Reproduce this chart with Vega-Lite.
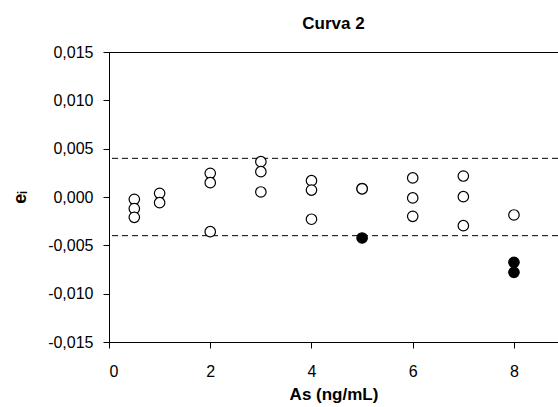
{
  "$schema": "https://vega.github.io/schema/vega-lite/v6.json",
  "autosize": "none",
  "padding": {"left": 109, "top": 52, "right": 0, "bottom": 65},
  "width": 449,
  "height": 290,
  "background": "white",
  "title": {"text": "Curva 2", "font": "Liberation Sans", "fontSize": 17, "fontWeight": "bold", "color": "black", "offset": 11},
  "config": {
    "view": {"stroke": "black", "strokeWidth": 1},
    "axis": {"labelFont": "Liberation Sans", "titleFont": "Liberation Sans", "labelFontSize": 16, "titleFontSize": 17, "labelColor": "black", "titleColor": "black", "domainColor": "black", "tickColor": "black", "grid": false}
  },
  "datasets": {
    "points": [
      {"As": 0.5, "e": -0.00024, "status": "ok"},
      {"As": 0.5, "e": -0.0012, "status": "ok"},
      {"As": 0.5, "e": -0.0021, "status": "ok"},
      {"As": 1, "e": 0.00038, "status": "ok"},
      {"As": 1, "e": -0.00059, "status": "ok"},
      {"As": 2, "e": 0.00245, "status": "ok"},
      {"As": 2, "e": 0.00148, "status": "ok"},
      {"As": 2, "e": -0.00359, "status": "ok"},
      {"As": 3, "e": 0.00365, "status": "ok"},
      {"As": 3, "e": 0.00262, "status": "ok"},
      {"As": 3, "e": 0.00052, "status": "ok"},
      {"As": 4, "e": 0.00169, "status": "ok"},
      {"As": 4, "e": 0.00072, "status": "ok"},
      {"As": 4, "e": -0.0023, "status": "ok"},
      {"As": 5, "e": 0.00088, "status": "ok"},
      {"As": 5, "e": 0.00085, "status": "ok"},
      {"As": 5, "e": -0.00424, "status": "outlier"},
      {"As": 6, "e": 0.00197, "status": "ok"},
      {"As": 6, "e": -0.0001, "status": "ok"},
      {"As": 6, "e": -0.002, "status": "ok"},
      {"As": 7, "e": 0.00217, "status": "ok"},
      {"As": 7, "e": 0.00003, "status": "ok"},
      {"As": 7, "e": -0.00297, "status": "ok"},
      {"As": 8, "e": -0.00186, "status": "ok"},
      {"As": 8, "e": -0.00676, "status": "outlier"},
      {"As": 8, "e": -0.00779, "status": "outlier"}
    ],
    "limits": [{"ref": 0.004}, {"ref": -0.004}]
  },
  "layer": [
    {
      "data": {"name": "limits"},
      "mark": {"type": "rule", "color": "black", "strokeWidth": 1, "strokeDash": [6, 4]},
      "encoding": {
        "y": {"field": "ref", "type": "quantitative", "scale": {"domain": [-0.015, 0.015]}}
      }
    },
    {
      "mark": {"type": "rule", "color": "#333333", "strokeWidth": 1},
      "encoding": {"y": {"datum": 0, "type": "quantitative"}}
    },
    {
      "data": {"name": "points"},
      "mark": {"type": "point", "shape": "circle", "size": 110, "strokeWidth": 1.2, "stroke": "black", "opacity": 1, "filled": true},
      "encoding": {
        "x": {
          "field": "As", "type": "quantitative",
          "scale": {"domain": [0, 8.87], "nice": false},
          "axis": {"values": [0, 2, 4, 6, 8], "title": "As (ng/mL)", "titleFontWeight": "bold", "labelPadding": 15, "titlePadding": 7, "tickSize": 6}
        },
        "y": {
          "field": "e", "type": "quantitative",
          "scale": {"domain": [-0.015, 0.015], "nice": false},
          "axis": {
            "values": [-0.015, -0.01, -0.005, 0, 0.005, 0.01, 0.015],
            "labelExpr": "(datum.value < 0 ? '-' : '') + replace(format(abs(datum.value), '.3f'), '.', ',')",
            "title": "eᵢ", "titleFontWeight": "bold", "titleFontSize": 18, "titleAngle": -90, "titlePadding": 18, "tickSize": 6, "labelPadding": 10
          }
        },
        "fill": {"field": "status", "type": "nominal", "scale": {"domain": ["ok", "outlier"], "range": ["white", "black"]}, "legend": null}
      }
    }
  ]
}
